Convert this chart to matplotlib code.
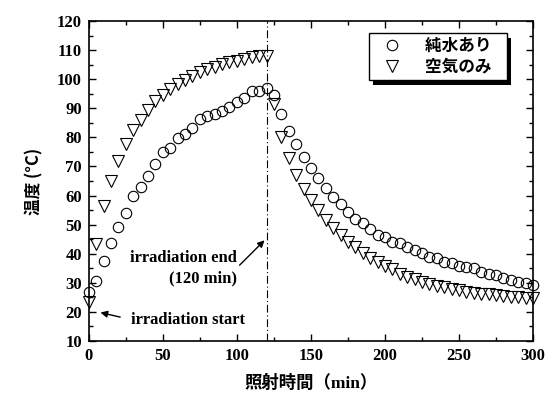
import numpy as np
import matplotlib
matplotlib.use("Agg")
from matplotlib import pyplot as plt
from matplotlib.patches import Rectangle
from matplotlib.ticker import MultipleLocator

# time (min), sampled every 5 min
time = np.arange(0, 305, 5)

# 純水あり
water = [27, 30.5, 37.4, 43.6, 49.3, 53.9, 59.8, 63, 66.8, 70.8,
         74.9, 76.4, 79.9, 81.2, 83.1, 86.2, 87.5, 88.2, 89.1, 90.5,
         92.3, 93.4, 96, 96, 96.9, 94.6, 88.2, 82.1, 77.8, 73.1,
         69.4, 66.2, 62.5, 59.6, 57.1, 54.4, 51.8, 50.7, 48.4, 46.4,
         45.6, 44.1, 43.6, 42.2, 41.3, 40.1, 38.8, 38.4, 37.3, 36.7,
         35.8, 35.3, 35, 33.8, 33.2, 32.7, 31.8, 31, 30.4, 29.9, 29.3]

# 空気のみ
air = [23.5, 43.3, 56.4, 65, 72, 77.6, 82.5, 86, 89.4, 92.5,
       94.6, 96.5, 98.3, 99.7, 101.1, 102.4, 103.4, 104.3, 105.2, 105.9,
       106.4, 106.9, 107.5, 107.8, 108.1, 91.4, 80.2, 72.8, 67.1, 62.1,
       58.4, 55, 51.6, 48.7, 46.4, 44.1, 42.2, 40.1, 38.6, 37.3,
       35.8, 34.6, 33.2, 32.1, 31.2, 30.4, 29.6, 29, 28.4, 27.9,
       27.5, 27, 26.6, 26.3, 26, 25.7, 25.5, 25.2, 25, 24.8, 24.7]

labels = ["純水あり", "空気のみ"]
t_end = 120

serif = ["Liberation Serif", "Noto Sans CJK JP"]
cjk = ["Noto Sans CJK JP", "DejaVu Sans"]

fig = plt.figure(figsize=(5.52, 3.94), dpi=100)
ax = fig.add_axes([0.161, 0.1345, 0.8045, 0.8122])

ax.plot(time, water, 'o', ms=7.5, mfc='none', mec='black', mew=0.8,
        clip_on=False, label=labels[0] + "   ")
ax.plot(time, air, 'v', ms=8.5, mfc='none', mec='black', mew=0.8,
        clip_on=False, label=labels[1] + "   ")

ax.axvline(t_end, color='black', lw=0.8, ls=(0, (7, 2.5, 1, 2.5)))

ax.set_xlim(0, 300)
ax.set_ylim(10, 120)
ax.xaxis.set_major_locator(MultipleLocator(50))
ax.xaxis.set_minor_locator(MultipleLocator(25))
ax.yaxis.set_major_locator(MultipleLocator(10))
ax.yaxis.set_minor_locator(MultipleLocator(5))
ax.tick_params(which='both', direction='in', top=True, right=True, width=1)
ax.tick_params(which='major', length=5, pad=5)
ax.tick_params(which='minor', length=3)
for s in ax.spines.values():
    s.set_linewidth(1.2)
for lab in ax.get_xticklabels() + ax.get_yticklabels():
    lab.set_family(serif)
    lab.set_fontweight('bold')
    lab.set_fontsize(12)

ax.set_xlabel("照射時間（min）", family=serif, fontweight='bold', fontsize=12.5, labelpad=8)
ax.set_ylabel("温度 (°C)", family=cjk, fontweight='bold', fontsize=12, labelpad=10)

ax.text(100, 35, "irradiation end\n(120 min)", family=serif, fontweight='bold',
        fontsize=12, ha='right', va='center', multialignment='right', linespacing=1.4)
ax.annotate("", xy=(120, 45.3), xytext=(100.5, 35.4),
            arrowprops=dict(arrowstyle='-|>', color='black', lw=1, mutation_scale=10))
ax.text(28.5, 17.2, "irradiation start", family=serif, fontweight='bold',
        fontsize=12, ha='left', va='center')
ax.annotate("", xy=(6, 20), xytext=(23, 18),
            arrowprops=dict(arrowstyle='-|>', color='black', lw=1, mutation_scale=10))

leg = ax.legend(loc='upper right', bbox_to_anchor=(0.941, 0.9625), borderaxespad=0,
                prop={'family': cjk, 'weight': 'bold', 'size': 12},
                fancybox=False, edgecolor='black', framealpha=1,
                borderpad=0.25, labelspacing=0.15, handletextpad=0.88, handlelength=2.2)
leg.get_frame().set_linewidth(1)

# black drop shadow behind the legend box
fig.canvas.draw()
bb = leg.get_window_extent()
ax.add_patch(Rectangle((bb.x0 + 4, bb.y0 - 5), bb.width, bb.height,
                       transform=None, facecolor='black', edgecolor='none',
                       zorder=4.5, clip_on=False))

fig.savefig("out.png", dpi=100)
